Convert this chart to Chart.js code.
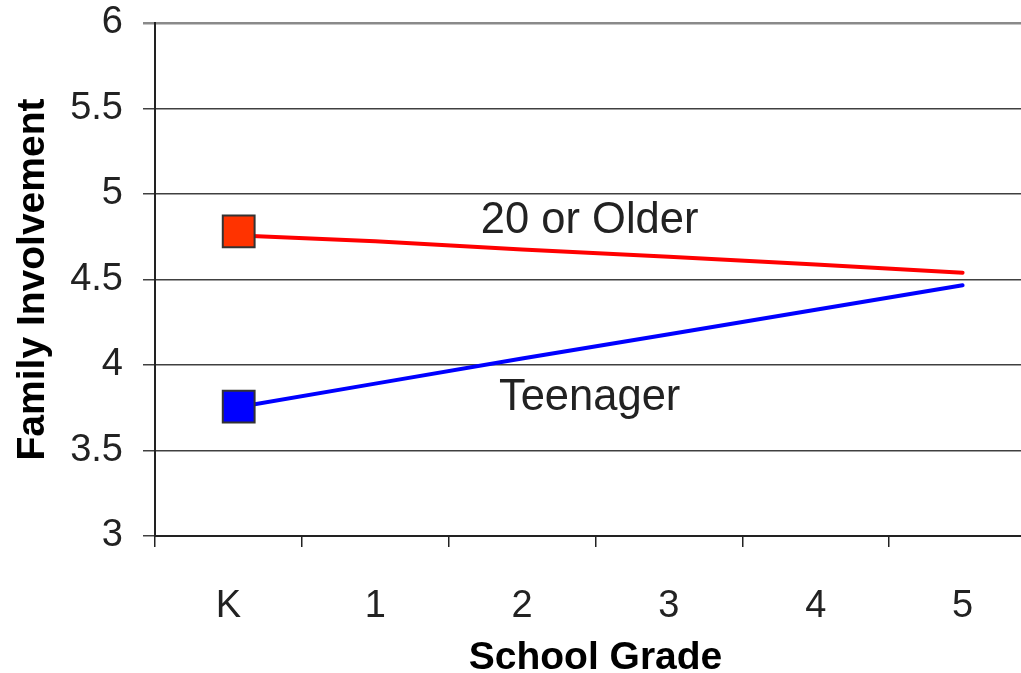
<!DOCTYPE html>
<html>
<head>
<meta charset="utf-8">
<title>Family Involvement by School Grade</title>
<script src="https://cdn.jsdelivr.net/npm/chart.js@4/dist/chart.umd.min.js"></script>
<style>
  html, body { margin: 0; padding: 0; background: #fff; overflow: hidden; }
  #wrap { position: absolute; left: 0; top: 0; width: 1045px; height: 690px; }
</style>
</head>
<body>
<div id="wrap"><canvas id="chart" width="1045" height="690"></canvas></div>
<script>
// School grades on the horizontal axis
const grades = ['K', '1', '2', '3', '4', '5'];
// Value labels on the vertical axis
const yTicks = ['3', '3.5', '4', '4.5', '5', '5.5', '6'];

// Estimated family involvement across grades, by maternal age group
const olderLine = [4.76, 4.724, 4.676, 4.633, 4.588, 4.540];
const teenLine = [3.744, 3.891, 4.038, 4.180, 4.323, 4.466];

// Observed kindergarten values (square markers)
const markerGrade = [0.07];
const olderMarker = [4.781];
const teenMarker = [3.757];

// In-plot group labels
const noteText = ['20 or Older', 'Teenager'];
const noteGrade = [2.46, 2.46];
const noteValue = [4.842, 3.807];

const FONT = '"Liberation Sans", Arial, Helvetica, sans-serif';
const TEXT = '#222222';

const lineData = vals => vals.map((v, i) => ({ x: i, y: v }));
const markerData = vals => vals.map((v, i) => ({ x: markerGrade[i], y: v }));

// Tick marks sit between grades, labels sit on the grades
const xTickValues = [];
for (let i = 0; i <= grades.length; i++) {
  xTickValues.push(i - 0.5);
  if (i < grades.length) xTickValues.push(i);
}
const isBetween = v => Math.abs(v - Math.round(v)) > 0.25;

const groupLabels = {
  id: 'groupLabels',
  afterDatasetsDraw(chart) {
    const { ctx, scales } = chart;
    ctx.save();
    ctx.font = '43.5px ' + FONT;
    ctx.fillStyle = TEXT;
    ctx.textAlign = 'center';
    ctx.textBaseline = 'middle';
    noteText.forEach((t, i) => {
      ctx.fillText(t, scales.x.getPixelForValue(noteGrade[i]), scales.y.getPixelForValue(noteValue[i]));
    });
    ctx.restore();
  }
};

new Chart(document.getElementById('chart'), {
  type: 'line',
  data: {
    datasets: [
      {
        label: '20 or Older (K)',
        data: markerData(olderMarker),
        showLine: false,
        pointStyle: 'rect',
        pointRadius: 22.5,
        pointBackgroundColor: '#FF3300',
        pointBorderColor: '#333333',
        pointBorderWidth: 2
      },
      {
        label: 'Teenager (K)',
        data: markerData(teenMarker),
        showLine: false,
        pointStyle: 'rect',
        pointRadius: 22.5,
        pointBackgroundColor: '#0000FF',
        pointBorderColor: '#333333',
        pointBorderWidth: 2
      },
      {
        label: '20 or Older',
        data: lineData(olderLine),
        borderColor: '#FF0000',
        borderWidth: 4,
        borderCapStyle: 'round',
        pointRadius: 0,
        tension: 0
      },
      {
        label: 'Teenager',
        data: lineData(teenLine),
        borderColor: '#0000FF',
        borderWidth: 4,
        borderCapStyle: 'round',
        pointRadius: 0,
        tension: 0
      }
    ]
  },
  options: {
    responsive: false,
    animation: false,
    events: [],
    layout: { autoPadding: false, padding: { top: 23, right: 9, left: 0, bottom: 0 } },
    plugins: { legend: { display: false }, tooltip: { enabled: false } },
    scales: {
      x: {
        type: 'linear',
        min: -0.5,
        max: grades.length - 0.5,
        afterBuildTicks: s => { s.ticks = xTickValues.map(v => ({ value: v })); },
        afterFit: s => {
          s.height = 154;
          s.paddingLeft = 0;
          s.paddingRight = 0;
        },
        ticks: {
          autoSkip: false,
          maxRotation: 0,
          padding: 37,
          color: TEXT,
          font: { family: FONT, size: 38 },
          callback: v => isBetween(v) ? '' : grades[Math.round(v)]
        },
        grid: {
          drawOnChartArea: false,
          tickLength: 11,
          lineWidth: 1.5,
          color: c => isBetween(c.tick.value) ? '#222222' : 'rgba(0,0,0,0)'
        },
        border: { color: '#222222', width: 2 },
        title: {
          display: true,
          text: 'School Grade',
          color: '#000000',
          font: { family: FONT, size: 39, weight: 'bold' },
          padding: { top: 0, bottom: 8 }
        }
      },
      y: {
        min: 3,
        max: 6,
        afterBuildTicks: s => { s.ticks = yTicks.map(t => ({ value: parseFloat(t) })); },
        afterFit: s => {
          s.width = 155;
          s.paddingTop = 0;
          s.paddingBottom = 0;
        },
        ticks: {
          padding: 20,
          color: TEXT,
          font: { family: FONT, size: 38 },
          callback: (v, i) => yTicks[i]
        },
        grid: {
          tickLength: 12,
          lineWidth: c => c.tick && c.tick.value === 6 ? 2.5 : 1.5,
          color: c => c.tick && c.tick.value === 6 ? '#8a8a8a' : '#404040'
        },
        border: { color: '#222222', width: 2 },
        title: {
          display: true,
          text: 'Family Involvement',
          color: '#000000',
          font: { family: FONT, size: 39, weight: 'bold' },
          padding: { top: 10, bottom: 0 }
        }
      }
    }
  },
  plugins: [groupLabels]
});
</script>
</body>
</html>
